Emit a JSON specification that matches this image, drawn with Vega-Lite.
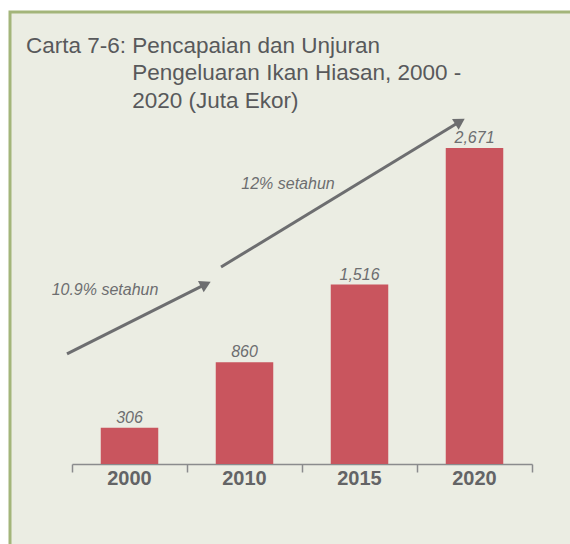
{
  "$schema": "https://vega.github.io/schema/vega-lite/v6.json",
  "autosize": {"type": "none"},
  "padding": {"left": 10, "top": 12, "right": 0, "bottom": 0},
  "width": 570,
  "height": 540,
  "background": "white",
  "config": {"view": {"fill": "#EBEDE3", "stroke": "#A3B57A", "strokeWidth": 3}},
  "title": {
    "text": ["Carta 7-6: Pencapaian dan Unjuran", "\u200b\u00a0\u00a0\u00a0\u00a0\u00a0\u00a0\u00a0\u00a0\u00a0\u00a0\u00a0\u00a0\u00a0\u00a0\u00a0\u00a0\u00a0Pengeluaran Ikan Hiasan, 2000 -", "\u200b\u00a0\u00a0\u00a0\u00a0\u00a0\u00a0\u00a0\u00a0\u00a0\u00a0\u00a0\u00a0\u00a0\u00a0\u00a0\u00a0\u00a02020 (Juta Ekor)"],
    "anchor": "start",
    "frame": "group",
    "orient": "top",
    "offset": -100,
    "baseline": "top",
    "dx": 16,
    "font": "Liberation Sans",
    "fontSize": 22.5,
    "fontWeight": "normal",
    "color": "#58595B",
    "lineHeight": 27.5
  },
  "resolve": {"scale": {"x": "independent"}, "axis": {"x": "independent"}},
  "layer": [
    {
      "data": {"values": [
        {"year": "2000", "value": 306},
        {"year": "2010", "value": 860},
        {"year": "2015", "value": 1516},
        {"year": "2020", "value": 2671}
      ]},
      "encoding": {
        "x": {"field": "year", "type": "nominal", "sort": null,
          "scale": {"range": [62, 522], "paddingInner": 0, "paddingOuter": 0},
          "axis": {"title": null, "ticks": false, "tickSize": 0, "domain": false, "labelAngle": 0,
            "labelFont": "Liberation Sans", "labelFontWeight": "bold", "labelFontSize": 20,
            "labelColor": "#636466", "labelPadding": 4, "offset": -88, "orient": "bottom"}},
        "y": {"field": "value", "type": "quantitative",
          "scale": {"domain": [0, 3820], "range": [452, 0], "nice": false}, "axis": null}
      },
      "layer": [
        {"mark": {"type": "bar", "color": "#C9555E", "width": {"band": 0.5}}},
        {"mark": {"type": "text", "dy": -5, "baseline": "alphabetic", "fontStyle": "italic", "fontSize": 16, "font": "Liberation Sans", "color": "#6D6E70"},
         "encoding": {"text": {"field": "value", "type": "quantitative", "format": ",d"}}}
      ]
    },
    {
      "layer": [
        {
          "data": {"values": [
            {"x": -0.0435, "y": 930, "x2": 1.163, "y2": 1520},
            {"x": 1.296, "y": 1665, "x2": 3.374, "y2": 2894}
          ]},
          "mark": {"type": "rule", "color": "#6D6E70", "strokeWidth": 3},
          "encoding": {
            "x": {"field": "x", "type": "quantitative",
              "scale": {"domain": [0, 4], "range": [62, 522], "nice": false, "zero": false},
              "axis": {"values": [0, 1, 2, 3, 4], "labels": false, "tickSize": 8, "tickWidth": 1.5,
                "tickColor": "#8A8B8D", "domainColor": "#8A8B8D", "domainWidth": 1.5, "grid": false,
                "title": null, "offset": -88, "orient": "bottom"}},
            "y": {"field": "y", "type": "quantitative"},
            "x2": {"field": "x2"},
            "y2": {"field": "y2"}
          }
        },
        {
          "data": {"values": [
            {"x": 1.163, "y": 1520, "angle": -26.7},
            {"x": 3.374, "y": 2894, "angle": -31.3}
          ]},
          "mark": {"type": "point", "shape": "triangle-right", "filled": true, "size": 160, "color": "#6D6E70", "opacity": 1},
          "encoding": {
            "x": {"field": "x", "type": "quantitative"},
            "y": {"field": "y", "type": "quantitative"},
            "angle": {"field": "angle", "type": "quantitative", "scale": null}
          }
        },
        {
          "data": {"values": [
            {"x": 0.287, "y": 1471, "label": "10.9% setahun"},
            {"x": 1.878, "y": 2366, "label": "12% setahun"}
          ]},
          "mark": {"type": "text", "fontStyle": "italic", "fontSize": 16, "font": "Liberation Sans", "color": "#6D6E70", "baseline": "middle"},
          "encoding": {
            "x": {"field": "x", "type": "quantitative"},
            "y": {"field": "y", "type": "quantitative"},
            "text": {"field": "label"}
          }
        }
      ]
    }
  ]
}
